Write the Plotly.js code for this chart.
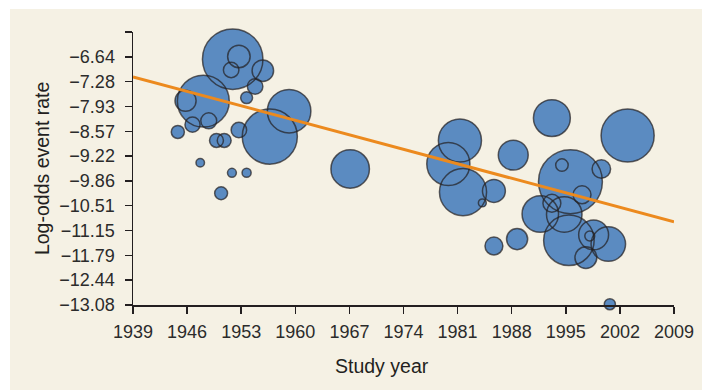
<!DOCTYPE html>
<html>
<head>
<meta charset="utf-8">
<script src="https://cdn.plot.ly/plotly-3.0.1.min.js"></script>
<style>
  html, body { margin: 0; padding: 0; background: #ffffff; }
  #chart { position: absolute; left: 10px; top: 9px; width: 692px; height: 381px; }
</style>
</head>
<body>
<div id="chart"></div>
<script>
// Study year of each trial
const studyYear = [1951.9, 1952.7, 1951.7, 1955.8, 1954.8, 1953.7, 1948.1, 1945.8, 1946.7, 1948.8,
  1944.8, 1949.8, 1950.8, 1952.7, 1956.7, 1959.2, 1947.7, 1951.8, 1953.7, 1950.4, 1967.1,
  1981.3, 1979.8, 1981.7, 1985.7, 1984.2, 1988.2, 1993.2, 2003.0, 1991.7, 1995.6, 1994.5,
  1999.6, 1997.1, 1993.2, 1994.8, 1995.4, 1998.6, 2000.5, 1998.1, 1997.6, 1988.7, 1985.7, 2000.7];
// Log-odds event rate of each trial
const logOdds = [-6.70, -6.63, -6.98, -7.00, -7.41, -7.70, -7.79, -7.78, -8.40, -8.30,
  -8.59, -8.81, -8.81, -8.54, -8.71, -8.05, -9.39, -9.65, -9.65, -10.18, -9.55,
  -8.81, -9.42, -10.15, -10.12, -10.43, -9.19, -8.23, -8.68, -10.72, -9.88, -9.45,
  -9.55, -10.22, -10.44, -10.73, -11.40, -11.26, -11.50, -11.29, -11.85, -11.37, -11.55, -13.06];
// Study weight (bubble diameter)
const studyWeight = [62, 24, 17, 23, 17, 13.4, 53.4, 22.6, 16.6, 17.4,
  14.6, 15.4, 15.4, 17, 56.6, 45, 10, 10.4, 10.6, 14.4, 40,
  44.6, 44.6, 48.6, 24.4, 9.4, 31.4, 38.4, 54.6, 38, 65.4, 14,
  20, 19.4, 19.4, 37, 52, 31.4, 36, 11.4, 23.4, 22.6, 19.4, 12.6];
// Meta-regression line
const trendYear = [1939, 2009];
const trendLogOdds = [-7.16, -10.92];
// Axis ticks
const xTickVals = [1939, 1946, 1953, 1960, 1967, 1974, 1981, 1988, 1995, 2002, 2009];
const xTickText = ["1939", "1946", "1953", "1960", "1967", "1974", "1981", "1988", "1995", "2002", "2009"];
const yTickVals = [-13.08, -12.436, -11.792, -11.148, -10.504, -9.86, -9.216, -8.572, -7.928, -7.284, -6.64, -5.996];
const yTickText = ["\u221213.08", "\u221212.44", "\u221211.79", "\u221211.15", "\u221210.51", "\u22129.86",
  "\u22129.22", "\u22128.57", "\u22127.93", "\u22127.28", "\u22126.64", ""];

const STROKE = 1.5;
const markerSize = studyWeight.map(d => d - STROKE);
const FONT = "'Liberation Sans', Arial, Helvetica, sans-serif";
const INK = '#231f20';

const fills = {
  type: 'scatter', mode: 'markers', x: studyYear, y: logOdds, cliponaxis: false,
  hoverinfo: 'skip',
  marker: { size: markerSize, sizemode: 'diameter', sizeref: 1, color: '#5b8bc1', opacity: 1,
            line: { width: 0 } }
};
const outlines = {
  type: 'scatter', mode: 'markers', x: studyYear, y: logOdds, cliponaxis: false,
  hoverinfo: 'skip',
  marker: { size: markerSize, sizemode: 'diameter', sizeref: 1, color: 'rgba(0,0,0,0)',
            line: { width: STROKE, color: INK } }
};
const trend = {
  type: 'scatter', mode: 'lines', x: trendYear, y: trendLogOdds, cliponaxis: false,
  hoverinfo: 'skip', line: { color: '#ec8a1e', width: 3 }
};

const layout = {
  width: 692, height: 381,
  margin: { l: 123, r: 28, t: 23, b: 85 },
  paper_bgcolor: '#f5f1e4', plot_bgcolor: '#f5f1e4',
  showlegend: false,
  font: { family: FONT, color: INK },
  xaxis: {
    range: [1939, 2009], tickmode: 'array', tickvals: xTickVals, ticktext: xTickText,
    showgrid: false, zeroline: false, showline: true, linecolor: INK, linewidth: 1.5,
    ticks: 'outside', ticklen: 7, tickwidth: 1.5, tickcolor: INK,
    tickfont: { family: FONT, size: 18, color: '#2b2b2b' }, ticklabelstandoff: 3
  },
  yaxis: {
    range: [-13.08, -5.996], tickmode: 'array', tickvals: yTickVals, ticktext: yTickText,
    showgrid: false, zeroline: false, showline: true, linecolor: INK, linewidth: 1.5,
    ticks: 'outside', ticklen: 7, tickwidth: 1.5, tickcolor: INK,
    tickfont: { family: FONT, size: 18, color: '#2b2b2b' }, ticklabelstandoff: 6
  },
  annotations: [
    { text: 'Study year', xref: 'paper', yref: 'paper', x: 0.4603, y: -0.225,
      xanchor: 'center', yanchor: 'middle', showarrow: false,
      font: { family: FONT, size: 19.5, color: INK } },
    { text: 'Log-odds event rate', xref: 'paper', yref: 'paper', x: -0.169, y: 0.5,
      xanchor: 'center', yanchor: 'middle', textangle: -90, showarrow: false,
      font: { family: FONT, size: 19.5, color: INK } }
  ]
};

Plotly.newPlot('chart', [fills, outlines, trend], layout, { staticPlot: true, displayModeBar: false });
</script>
</body>
</html>
